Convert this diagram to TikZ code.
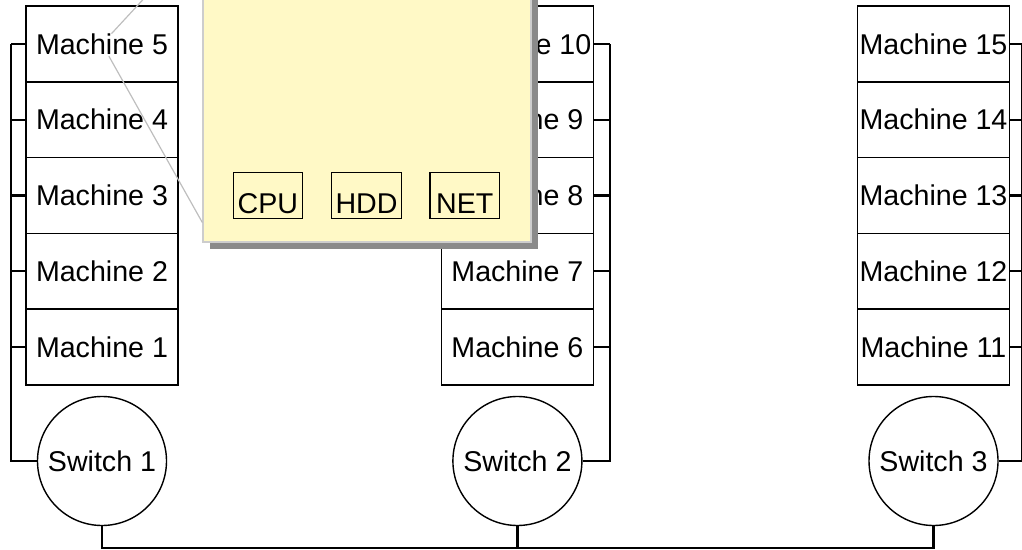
\documentclass[tikz,border=0pt]{standalone}
\usepackage{fontspec}
\setmainfont{Liberation Sans}
\usetikzlibrary{shadows}
\definecolor{popfill}{RGB}{255,249,198}
\definecolor{popedge}{RGB}{205,205,205}
\definecolor{popshadow}{RGB}{138,138,138}
\definecolor{pointer}{RGB}{190,190,190}
\tikzset{
    rack diagram/.style = {x=0.5pt, y=-0.5pt,
                           font=\fontsize{14.3}{17}\selectfont},
    machine/.style      = {draw, line width=0.8pt, inner sep=0pt,
                           minimum width=76pt, minimum height=37.9pt},
    switch/.style       = {draw, circle, line width=0.7pt, inner sep=0pt,
                           minimum size=64.5pt},
    wire/.style         = {line width=1.1pt},
    popup/.style        = {draw=popedge, fill=popfill, line width=0.6pt,
                           minimum width=164pt, minimum height=153pt,
                           drop shadow={shadow xshift=3.5pt,
                                        shadow yshift=-3.5pt,
                                        fill=popshadow, opacity=1}},
    part/.style         = {draw, line width=0.6pt, inner sep=0pt,
                           minimum width=34.8pt,
                           text height=20.3pt, text depth=2.7pt},
    pointer line/.style = {draw=pointer, line width=0.6pt, shorten >=7pt}
}
\begin{document}
\begin{tikzpicture}[rack diagram]
\useasboundingbox (0,0) rectangle (1022,550);

% Racks: five machines stacked above each switch
\foreach \col/\x in {0/102,1/517.4,2/933.5}
  \foreach \r in {1,...,5} {
    \pgfmathtruncatemacro\n{5*\col+\r}
    \node[machine] (m\n) at (\x,{347.1-75.8*(\r-1)}) {Machine \n};
  }
\node[switch] (s1) at (102,461) {Switch 1};
\node[switch] (s2) at (517.4,461) {Switch 2};
\node[switch] (s3) at (933.5,461) {Switch 3};

% Rack buses
\coordinate (b1) at (11,0);
\coordinate (b2) at (610,0);
\coordinate (b3) at (1022,0);
\coordinate (ground) at (0,548);
\draw[wire] (s1.west) -| (b1 |- m5);
\foreach \i in {1,...,5}
    \draw[wire] (m\i.west) -- (b1 |- m\i);
\draw[wire] (s2.east) -| (b2 |- m10);
\foreach \i in {6,...,10}
    \draw[wire] (m\i.east) -- (b2 |- m\i);
\draw[wire] (s3.east) -| (b3 |- m15);
\foreach \i in {11,...,15}
    \draw[wire] (m\i.east) -- (b3 |- m\i);

% Backbone between the switches
\draw[wire] (s1.south) |- (s2 |- ground) -| (s3.south);
\draw[wire] (s2.south) -- (s2 |- ground);

% Detail popup for machine 5
\node[popup] (detail) at (367,89) {};
\draw[pointer line] (detail.north west) -- (m5.center);
\draw[pointer line] ([yshift=10pt]detail.south west) -- (m5.center);
\node[part] (cpu) at (267.9,195.7) {CPU};
\node[part] (hdd) at (366.5,195.7) {HDD};
\node[part] (net) at (464.7,195.7) {NET};

\end{tikzpicture}
\end{document}
